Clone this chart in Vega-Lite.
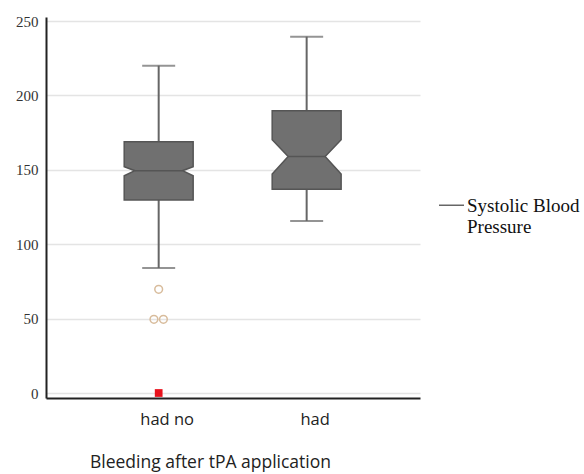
{
  "$schema": "https://vega.github.io/schema/vega-lite/v6.json",
  "autosize": {"type": "none"},
  "padding": {"left": 46, "top": 17, "right": 164, "bottom": 76},
  "width": 374,
  "height": 381,
  "background": "white",
  "datasets": {
    "whiskers": [
      {"cat": "had no", "pos": 1, "low": 84, "high": 220},
      {"cat": "had", "pos": 2, "low": 115.6, "high": 239.5}
    ],
    "box": [
      {"cat": "had no", "part": "q1", "value": 129.7, "left": 0.767, "right": 1.233},
      {"cat": "had no", "part": "notchLow", "value": 146, "left": 0.767, "right": 1.233},
      {"cat": "had no", "part": "median", "value": 149.4, "left": 0.839, "right": 1.161},
      {"cat": "had no", "part": "notchHigh", "value": 152.1, "left": 0.767, "right": 1.233},
      {"cat": "had no", "part": "q3", "value": 168.9, "left": 0.767, "right": 1.233},
      {"cat": "had", "part": "q1", "value": 136.9, "left": 1.767, "right": 2.233},
      {"cat": "had", "part": "notchLow", "value": 147.2, "left": 1.767, "right": 2.233},
      {"cat": "had", "part": "median", "value": 158.9, "left": 1.875, "right": 2.125},
      {"cat": "had", "part": "notchHigh", "value": 170.2, "left": 1.767, "right": 2.233},
      {"cat": "had", "part": "q3", "value": 189.7, "left": 1.767, "right": 2.233}
    ],
    "outliers": [
      {"cat": "had no", "x": 1, "value": 69.7, "kind": "outlier"},
      {"cat": "had no", "x": 0.968, "value": 49.5, "kind": "outlier"},
      {"cat": "had no", "x": 1.032, "value": 49.5, "kind": "outlier"},
      {"cat": "had no", "x": 1, "value": 0, "kind": "extreme"}
    ]
  },
  "config": {
    "view": {"stroke": null},
    "axis": {"gridColor": "#e4e4e4", "gridWidth": 1.5, "domainColor": "#222", "domainWidth": 2}
  },
  "encoding": {
    "y": {
      "type": "quantitative",
      "scale": {"domain": [-3.36, 252.7], "nice": false, "zero": false},
      "axis": {
        "title": null,
        "values": [0, 50, 100, 150, 200, 250],
        "ticks": true,
        "tickSize": 0,
        "labelFont": "Liberation Serif",
        "labelFontSize": 15,
        "labelColor": "#333",
        "labelPadding": 8,
        "grid": true
      }
    }
  },
  "layer": [
    {
      "data": {"name": "whiskers"},
      "mark": {"type": "rule", "strokeWidth": 2},
      "encoding": {
        "x": {
          "field": "pos",
          "type": "quantitative",
          "scale": {"domain": [0.2385, 2.766], "nice": false, "zero": false},
          "axis": {
            "title": "Bleeding after tPA application",
            "values": [1, 2],
            "labelExpr": "datum.value == 1 ? 'had no' : 'had'",
            "grid": false,
            "ticks": false,
            "labelFont": "Open Sans",
            "labelFontSize": 16.5,
            "labelColor": "#222",
            "labelPadding": 13,
            "labelOffset": 8,
            "titleFont": "Open Sans",
            "titleFontSize": 17.5,
            "titleFontWeight": "normal",
            "titleColor": "#222",
            "titlePadding": 26,
            "titleX": 164,
            "titleAnchor": "middle"
          }
        },
        "y": {"field": "low"},
        "y2": {"field": "high"},
        "color": {
          "datum": "Systolic Blood Pressure",
          "scale": {"range": ["#666666"]},
          "legend": {
            "title": null,
            "orient": "none",
            "legendX": 392,
            "legendY": 181,
            "symbolType": "M-1,-0.5L1,-0.5",
            "symbolSize": 625,
            "symbolStrokeWidth": 1.5,
            "symbolStrokeColor": "#666666",
            "symbolFillColor": "transparent",
            "labelExpr": "['Systolic Blood', 'Pressure']",
            "labelFont": "Liberation Serif",
            "labelFontSize": 19,
            "labelColor": "#111",
            "labelBaseline": "alphabetic",
            "labelOffset": 2,
            "labelLimit": 300
          }
        }
      }
    },
    {
      "data": {"name": "whiskers"},
      "mark": {"type": "tick", "orient": "horizontal", "size": 33, "thickness": 2, "color": "#666666"},
      "encoding": {
        "x": {"field": "pos", "type": "quantitative"},
        "y": {"field": "high"}
      }
    },
    {
      "data": {"name": "whiskers"},
      "mark": {"type": "tick", "orient": "horizontal", "size": 33, "thickness": 2, "color": "#666666"},
      "encoding": {
        "x": {"field": "pos", "type": "quantitative"},
        "y": {"field": "low"}
      }
    },
    {
      "data": {"name": "box"},
      "mark": {"type": "area", "orient": "horizontal", "fill": "#707070", "stroke": "#555555", "strokeWidth": 1.5, "opacity": 1},
      "encoding": {
        "y": {"field": "value"},
        "x": {"field": "left", "type": "quantitative", "stack": null},
        "x2": {"field": "right"},
        "detail": {"field": "cat", "type": "nominal"}
      }
    },
    {
      "data": {"name": "box"},
      "transform": [{"filter": "datum.part == 'median'"}],
      "mark": {"type": "rule", "color": "#555555", "strokeWidth": 1.5},
      "encoding": {
        "y": {"field": "value"},
        "x": {"field": "left", "type": "quantitative"},
        "x2": {"field": "right"}
      }
    },
    {
      "data": {"name": "outliers"},
      "transform": [{"filter": "datum.kind == 'outlier'"}],
      "mark": {"type": "point", "shape": "circle", "filled": false, "stroke": "#d8bc9c", "strokeWidth": 1.5, "size": 60, "opacity": 1},
      "encoding": {
        "x": {"field": "x", "type": "quantitative"},
        "y": {"field": "value"}
      }
    },
    {
      "data": {"name": "outliers"},
      "transform": [{"filter": "datum.kind == 'extreme'"}],
      "mark": {"type": "square", "filled": true, "color": "#e8121c", "size": 60, "opacity": 1},
      "encoding": {
        "x": {"field": "x", "type": "quantitative"},
        "y": {"field": "value"}
      }
    }
  ]
}
